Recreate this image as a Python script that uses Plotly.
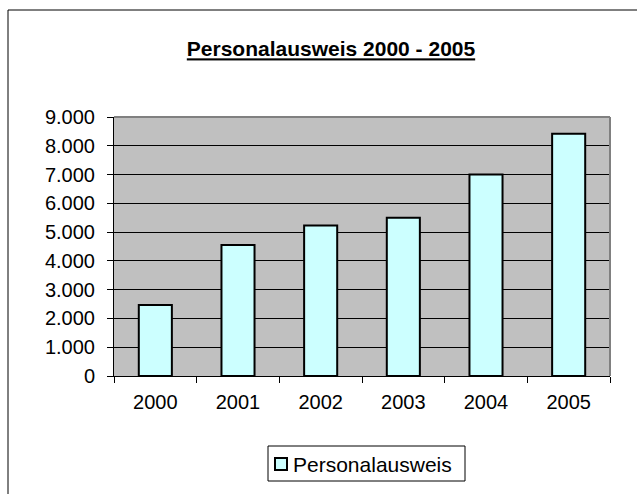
import plotly.graph_objects as go

# Anzahl ausgestellter Personalausweise pro Jahr
jahre = ["2000", "2001", "2002", "2003", "2004", "2005"]
anzahl = [2470, 4550, 5230, 5500, 7000, 8420]
serie = "Personalausweis"
titel = "Personalausweis 2000 - 2005"

FONT = "Arial, Liberation Sans, sans-serif"
FUELLUNG = "#CCFFFF"

W, H = 637, 494
L, R, T, B = 114, 27, 117, 118
pw, ph = W - L - R, H - T - B


def px_x(x):
    return (x - L) / pw


def px_y(y):
    return (H - B - y) / ph


fig = go.Figure(
    go.Bar(
        x=jahre,
        y=anzahl,
        name=serie,
        marker=dict(color=FUELLUNG, line=dict(color="black", width=2)),
        showlegend=False,
    )
)

fig.update_layout(
    width=W,
    height=H,
    margin=dict(l=L, r=R, t=T, b=B),
    paper_bgcolor="white",
    plot_bgcolor="#C0C0C0",
    bargap=0.6,
    separators=",.",
    font=dict(family=FONT, size=20, color="black"),
    title=dict(
        text="<b><u>" + titel + "</u></b>",
        x=331 / W,
        xanchor="center",
        y=1 - 49 / H,
        yanchor="middle",
        font=dict(family=FONT, size=21, color="black"),
    ),
    xaxis=dict(
        type="category",
        showline=True,
        linecolor="black",
        linewidth=1,
        ticks="outside",
        tickson="boundaries",
        ticklen=6,
        tickcolor="black",
        showgrid=False,
        ticklabelstandoff=8,
    ),
    yaxis=dict(
        range=[0, 9000],
        dtick=1000,
        tickformat=",.0f",
        showline=True,
        linecolor="black",
        linewidth=1,
        ticks="outside",
        ticklen=6,
        tickcolor="black",
        showgrid=True,
        gridcolor="black",
        gridwidth=1,
        zeroline=False,
        ticklabelstandoff=8,
    ),
    shapes=[
        # Rahmen des Diagrammbereichs
        dict(type="rect", xref="paper", yref="paper",
             x0=px_x(8), x1=px_x(660), y0=px_y(520), y1=px_y(10),
             line=dict(color="black", width=1), fillcolor="rgba(0,0,0,0)", layer="below"),
        # grauer Rand der Zeichenfläche oben und rechts
        dict(type="line", xref="paper", yref="paper", x0=0, x1=1, y0=1, y1=1,
             line=dict(color="#808080", width=2), layer="above"),
        dict(type="line", xref="paper", yref="paper", x0=1, x1=1, y0=0, y1=1,
             line=dict(color="#808080", width=2), layer="above"),
        # Legendenkasten
        dict(type="rect", xref="paper", yref="paper",
             x0=px_x(268), x1=px_x(465), y0=px_y(481), y1=px_y(446),
             line=dict(color="black", width=1), fillcolor="white", layer="above"),
        # Legendensymbol
        dict(type="rect", xref="paper", yref="paper",
             x0=px_x(275), x1=px_x(287), y0=px_y(470), y1=px_y(458),
             line=dict(color="black", width=2), fillcolor=FUELLUNG, layer="above"),
    ],
    annotations=[
        dict(text=serie, xref="paper", yref="paper",
             x=px_x(291), y=px_y(464), xanchor="left", yanchor="middle",
             showarrow=False, font=dict(family=FONT, size=21, color="black")),
    ],
)

fig.write_html("out.html")
